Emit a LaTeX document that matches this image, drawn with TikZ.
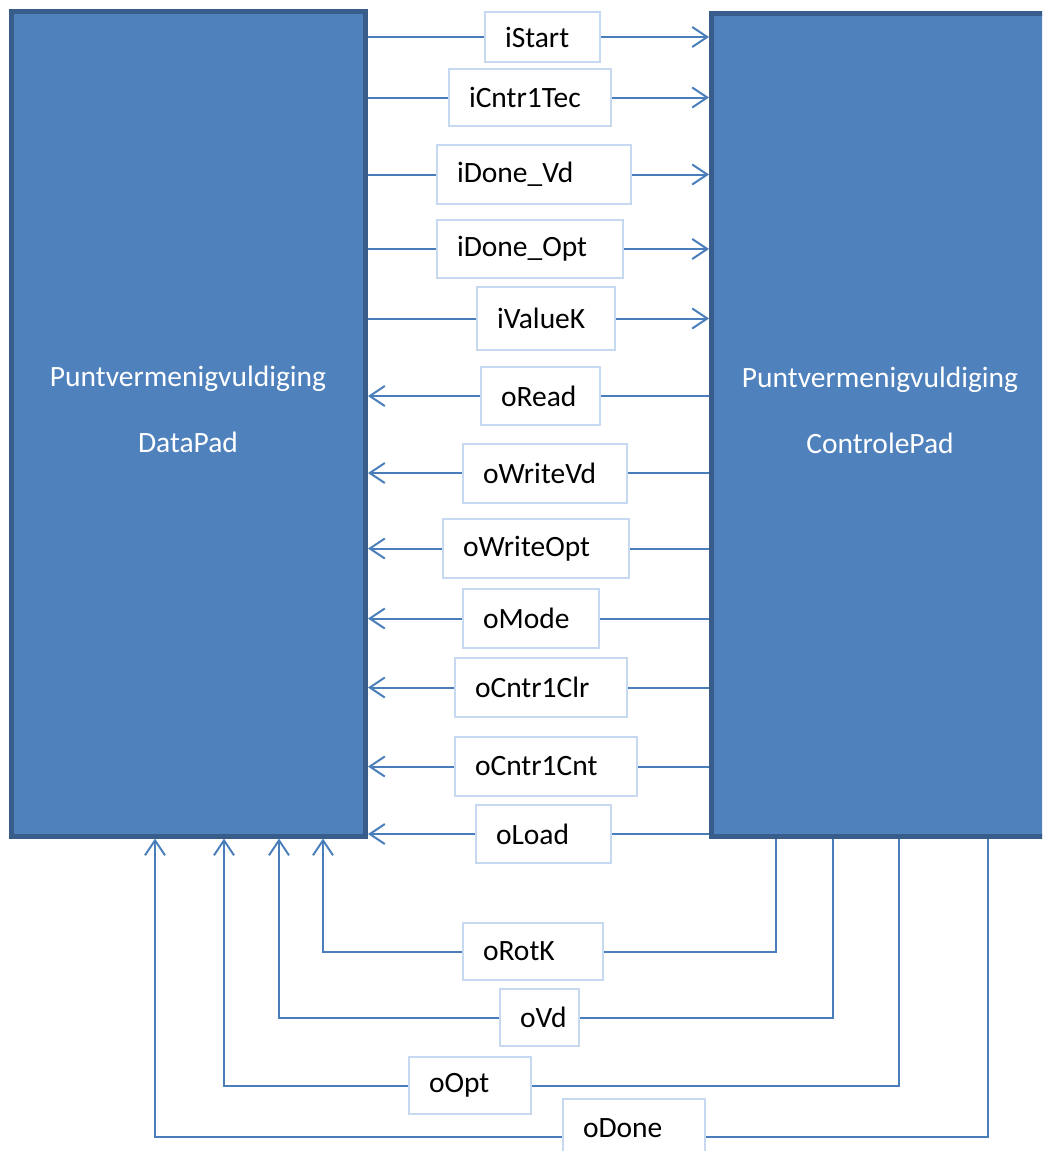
\documentclass[tikz,border=0pt]{standalone}
\usepackage{fontspec}
\setmainfont{Carlito}
\usetikzlibrary{arrows.meta}
\definecolor{boxfill}{RGB}{79,129,189}
\definecolor{boxline}{RGB}{56,93,138}
\definecolor{wirecol}{RGB}{74,126,187}
\definecolor{tagline}{RGB}{198,217,241}

\begin{document}
\begin{tikzpicture}[x=1pt,y=-1pt,
  block/.style={draw=boxline, fill=boxfill, line width=5pt, inner sep=0pt},
  title/.style={text=white, font=\fontsize{29.5}{66}\selectfont, align=center, inner sep=0pt},
  tag/.style={draw=tagline, line width=2pt, fill=white, inner xsep=20pt, inner ysep=0pt,
              minimum height=58pt, align=left, font=\fontsize{29.5}{34}\selectfont, text=black},
  wire/.style={draw=wirecol, line width=2pt},
  sig/.style={wire, -{Straight Barb[length=15pt,width=20pt]}},
]
\useasboundingbox (0,0) rectangle (1042,1151);
\fill[white] (0,0) rectangle (1042,1151);
\clip (0,0) rectangle (1042,1151);

% the two blocks
\node[block, minimum width=354.5pt, minimum height=825pt] (dp) at (188.25,423.5) {};
\node[block, minimum width=337.5pt, minimum height=822.5pt] (cp) at (880.25,424.75) {};
\node[title] (dptitle) at (188,409) {Puntvermenigvuldiging\\DataPad};
\node[title] (cptitle) at (880,410) {Puntvermenigvuldiging\\ControlePad};

% signal tags
\node[tag, text width=75pt, minimum height=50pt] (istart) at (542.5,37) {iStart};
\node[tag, text width=122pt, minimum height=57pt] (icntr) at (530,97.5) {iCntr1Tec};
\node[tag, text width=154pt, minimum height=59pt] (idonevd) at (534,174.5) {iDone\_Vd};
\node[tag, text width=146pt] (idoneopt) at (530,249) {iDone\_Opt};
\node[tag, text width=98pt, minimum height=63pt] (ivaluek) at (546,318.5) {iValueK};
\node[tag, text width=79pt] (oread) at (540.5,396) {oRead};
\node[tag, text width=124pt, minimum height=59pt] (owritevd) at (545,473) {oWriteVd};
\node[tag, text width=146pt, minimum height=59pt] (owriteopt) at (536,548.5) {oWriteOpt};
\node[tag, text width=96pt, minimum height=59pt] (omode) at (531,618.5) {oMode};
\node[tag, text width=132pt, minimum height=59pt] (oclr) at (541,687.5) {oCntr1Clr};
\node[tag, text width=142pt, minimum height=59pt] (ocnt) at (546,766.5) {oCntr1Cnt};
\node[tag, text width=95pt] (oload) at (543.5,834) {oLoad};
\node[tag, text width=100pt, minimum height=57pt] (orotk) at (533,951.5) {oRotK};
\node[tag, text width=39pt, minimum height=57pt] (ovd) at (539.5,1017.5) {oVd};
\node[tag, text width=82pt, minimum height=57pt] (oopt) at (470,1085.5) {oOpt};
\node[tag, text width=102pt, minimum height=59pt] (odone) at (634,1128.5) {oDone};

% inputs: DataPad -> ControlePad
\foreach \t in {istart,icntr,idonevd,idoneopt,ivaluek}{
  \draw[wire] (dp.east |- \t.west) -- (\t.west);
  \draw[sig] (\t.east) -- (\t.east -| cp.west);
}
% outputs: ControlePad -> DataPad
\foreach \t in {oread,owritevd,owriteopt,omode,oclr,ocnt,oload}{
  \draw[wire] (cp.west |- \t.east) -- (\t.east);
  \draw[sig] (\t.west) -- (\t.west -| dp.east);
}

% outputs routed below the blocks
\draw[wire] (orotk.east) -| ([xshift=67pt]cp.south west);
\draw[sig] (orotk.west) -| ([xshift=314.5pt]dp.south west);
\draw[wire] (ovd.east) -| ([xshift=124pt]cp.south west);
\draw[sig] (ovd.west) -| ([xshift=270.5pt]dp.south west);
\draw[wire] (oopt.east) -| ([xshift=190pt]cp.south west);
\draw[sig] (oopt.west) -| ([xshift=215.5pt]dp.south west);
\draw[wire] ([yshift=-8.5pt]odone.east) -| ([xshift=279pt]cp.south west);
\draw[sig] ([yshift=-8.5pt]odone.west) -| ([xshift=146.5pt]dp.south west);
\end{tikzpicture}
\end{document}
